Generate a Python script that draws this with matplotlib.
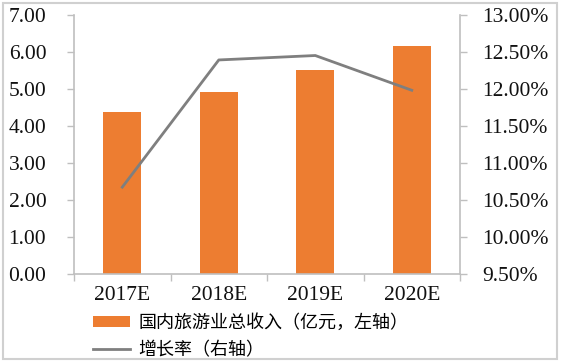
import matplotlib

matplotlib.use("Agg")

import matplotlib.pyplot as plt
from matplotlib.lines import Line2D
from matplotlib.patches import Patch, Rectangle
from matplotlib.ticker import FuncFormatter, MultipleLocator

years = ["2017E", "2018E", "2019E", "2020E"]
revenue = [4.36, 4.90, 5.51, 6.17]        # 国内旅游业总收入 (左轴)
growth = [10.67, 12.39, 12.45, 11.98]     # 增长率 % (右轴)

bar_label = "国内旅游业总收入（亿元，左轴）"
line_label = "增长率（右轴）"

ORANGE = "#ED7D31"
GRAY_LINE = "#7F7F7F"
SPINE = "#BFBFBF"
SERIF = ["Liberation Serif", "DejaVu Serif"]
CJK = ["Noto Sans CJK SC", "DejaVu Sans"]

fig = plt.figure(figsize=(5.61, 3.62), dpi=100)
ax = fig.add_axes([0.132, 0.244, 0.688, 0.715])

x = list(range(len(years)))
ax.bar(x, revenue, width=0.39, color=ORANGE, zorder=2)
ax.set_xlim(-0.5, len(years) - 0.5)
ax.set_ylim(0, 7)
ax.yaxis.set_major_locator(MultipleLocator(1))
ax.yaxis.set_major_formatter(FuncFormatter(lambda v, _: f"{v:.2f}"))

# category labels centred, tick marks on the boundaries
ax.set_xticks(x)
ax.set_xticklabels(years)
ax.tick_params(axis="x", length=0, pad=9)
ax.set_xticks([i + 0.5 for i in range(-1, len(years))], minor=True)
ax.tick_params(axis="x", which="minor", length=5, color=SPINE, width=1)
ax.tick_params(axis="y", length=5, color=SPINE, width=1, pad=15)

for side in ("top", "right"):
    ax.spines[side].set_visible(False)
for side in ("left", "bottom"):
    ax.spines[side].set_color(SPINE)
    ax.spines[side].set_linewidth(1.2)

ax2 = ax.twinx()
ax2.plot(x, growth, color=GRAY_LINE, linewidth=2.0, zorder=3)
ax2.set_ylim(9.5, 13.0)
ax2.yaxis.set_major_locator(MultipleLocator(0.5))
ax2.yaxis.set_major_formatter(FuncFormatter(lambda v, _: f"{v:.2f}%"))
ax2.tick_params(axis="y", length=5, color=SPINE, width=1, pad=11)
for side in ("top", "left", "bottom"):
    ax2.spines[side].set_visible(False)
ax2.spines["right"].set_color(SPINE)
ax2.spines["right"].set_linewidth(1.2)

for a in (ax, ax2):
    for lbl in a.get_xticklabels() + a.get_yticklabels():
        lbl.set_fontfamily(SERIF)
        lbl.set_fontsize(15.5)
        lbl.set_color("#111111")

handles = [
    Patch(facecolor=ORANGE, edgecolor="none"),
    Line2D([0], [0], color=GRAY_LINE, linewidth=2.0),
]
fig.legend(
    handles, [bar_label, line_label],
    loc="upper left", bbox_to_anchor=(0.165, 0.133),
    frameon=False, prop={"family": CJK, "size": 13},
    handlelength=2.1, handleheight=0.5, handletextpad=0.45,
    labelspacing=0.5, borderpad=0, borderaxespad=0,
)

# thin grey frame around the whole picture
fig.patches.append(Rectangle((0.006, 0.008), 0.986, 0.983, transform=fig.transFigure,
                             fill=False, edgecolor="#D0D0D0", linewidth=1.5))

fig.savefig("out.png", dpi=100)
